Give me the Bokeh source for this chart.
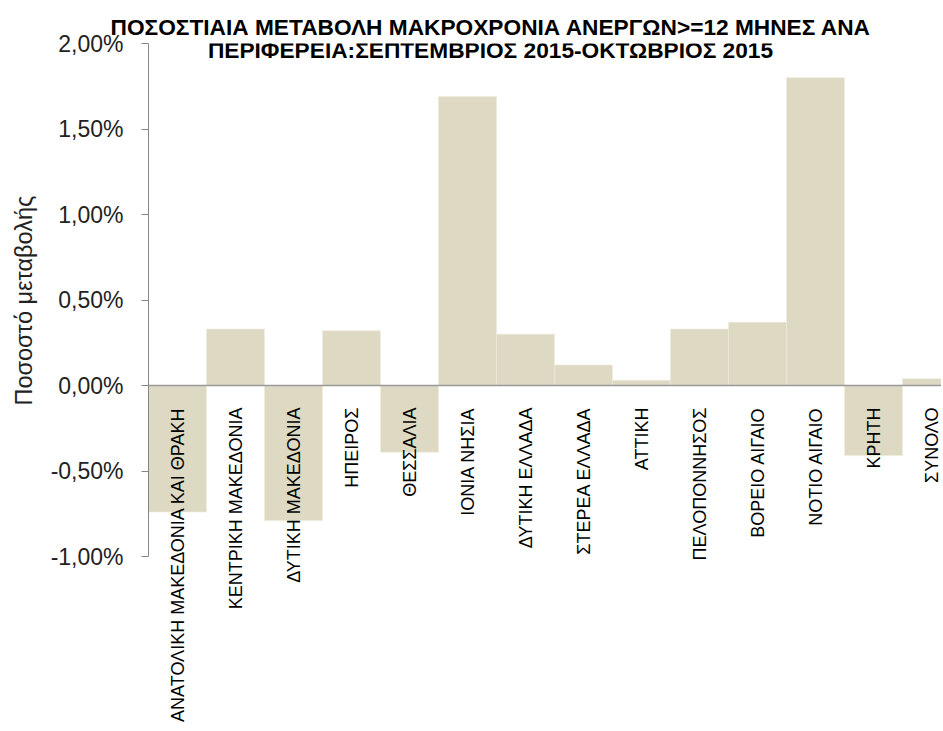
import numpy as np
from bokeh.plotting import figure
from bokeh.models import (Range1d, FixedTicker, CustomJSTickFormatter, Span, Label,
                          ColumnDataSource, Title)
from bokeh.embed import file_html
from bokeh.resources import INLINE
from bokeh.core.properties import value

# ---- data ----
categories = [
    "ΑΝΑΤΟΛΙΚΗ ΜΑΚΕΔΟΝΙΑ ΚΑΙ ΘΡΑΚΗ",
    "ΚΕΝΤΡΙΚΗ ΜΑΚΕΔΟΝΙΑ",
    "ΔΥΤΙΚΗ ΜΑΚΕΔΟΝΙΑ",
    "ΗΠΕΙΡΟΣ",
    "ΘΕΣΣΑΛΙΑ",
    "ΙΟΝΙΑ ΝΗΣΙΑ",
    "ΔΥΤΙΚΗ ΕΛΛΑΔΑ",
    "ΣΤΕΡΕΑ ΕΛΛΑΔΑ",
    "ΑΤΤΙΚΗ",
    "ΠΕΛΟΠΟΝΝΗΣΟΣ",
    "ΒΟΡΕΙΟ ΑΙΓΑΙΟ",
    "ΝΟΤΙΟ ΑΙΓΑΙΟ",
    "ΚΡΗΤΗ",
    "ΣΥΝΟΛΟ",
]
change_pct = [-0.74, 0.33, -0.79, 0.32, -0.39, 1.69, 0.30, 0.12, 0.03,
              0.33, 0.37, 1.80, -0.41, 0.04]
y_ticks = [-1.0, -0.5, 0.0, 0.5, 1.0, 1.5, 2.0]
title_lines = ["ΠΟΣΟΣΤΙΑΙΑ ΜΕΤΑΒΟΛΗ ΜΑΚΡΟΧΡΟΝΙΑ ΑΝΕΡΓΩΝ>=12 ΜΗΝΕΣ ΑΝΑ",
               "ΠΕΡΙΦΕΡΕΙΑ:ΣΕΠΤΕΜΒΡΙΟΣ 2015-ΟΚΤΩΒΡΙΟΣ 2015"]
y_label = "Ποσοστό μεταβολής"

# ---- layout ----
W, H = 941, 729
BL = 148              # frame left edge (y axis position)
BT = 43               # frame top edge = row of the 2,00% tick
PX_PER_UNIT_Y = 171.0
PX_PER_CAT = 58.0
frame_w = W - BL
frame_h = H - BT
y_top = 2.0
y_bottom = y_top - frame_h / PX_PER_UNIT_Y
x_end = frame_w / PX_PER_CAT
TITLE_CX = 490        # horizontal centre of the title lines
TITLE1_LEFT = 110     # left edge of first title line

xs = np.arange(len(categories)) + 0.5
src = ColumnDataSource(dict(x=xs, top=change_pct, cat=categories,
                            zero=np.zeros(len(categories))))

FONT = "Liberation Sans"
TITLE_SIZE = "22.7px"

p = figure(width=W, height=H, output_backend="svg", toolbar_location=None,
           x_range=Range1d(0, x_end), y_range=Range1d(y_bottom, y_top),
           x_axis_location=None, min_border_left=BL, min_border_top=BT,
           min_border_right=0, min_border_bottom=0)
p.outline_line_color = None
p.xgrid.visible = False
p.ygrid.visible = False
p.background_fill_color = "white"

# first title line sits above the frame (title panel, not clipped)
p.title.text = title_lines[0]
p.title.align = "left"
p.title.vertical_align = "top"
p.title.offset = TITLE1_LEFT - BL
p.title.text_font = FONT
p.title.text_font_size = TITLE_SIZE
p.title.text_font_style = "bold"
p.title.text_color = "black"
p.title.standoff = 4

p.vbar(x="x", top="top", bottom=0, width=1.0, source=src,
       fill_color="#DDD9C3", line_color="#EEEBDD", line_width=0.6)

zero = Span(location=0, dimension="width", line_color="#9A9A9A", line_width=1.6)
p.add_layout(zero)

p.text(x="x", y="zero", text="cat", source=src, angle=np.pi / 2,
       text_align="right", text_baseline="middle", y_offset=22,
       text_font=value(FONT), text_font_size="18px", text_color="black")

ax = p.yaxis[0]
ax.ticker = FixedTicker(ticks=y_ticks)
ax.formatter = CustomJSTickFormatter(code="return tick.toFixed(2).replace('.', ',') + '%';")
ax.bounds = (-1.0, 2.0)
ax.axis_line_color = "#868686"
ax.major_tick_line_color = "#868686"
ax.major_tick_out = 7
ax.major_tick_in = 0
ax.minor_tick_line_color = None
ax.major_label_standoff = 18
ax.major_label_text_font = FONT
ax.major_label_text_font_size = "23px"
ax.major_label_text_color = "#222222"

# y axis caption as a left-side title; its lower end starts at YLAB_BOTTOM px
YLAB_BOTTOM = 405
ylab = Title(text=y_label, align="left", vertical_align="top",
             offset=H - YLAB_BOTTOM,
             text_font=FONT, text_font_size="23.5px", text_font_style="normal",
             text_color="#222222", standoff=18)
p.add_layout(ylab, "left")

# second title line, inside the frame area
p.add_layout(Label(x=(TITLE_CX - BL) / PX_PER_CAT, y=2.0 - 6 / PX_PER_UNIT_Y,
                   text=title_lines[1], text_align="center",
                   text_baseline="middle", text_font=FONT,
                   text_font_size=TITLE_SIZE, text_font_style="bold",
                   text_color="black"))

open("out.html", "w").write(file_html(p, INLINE))
